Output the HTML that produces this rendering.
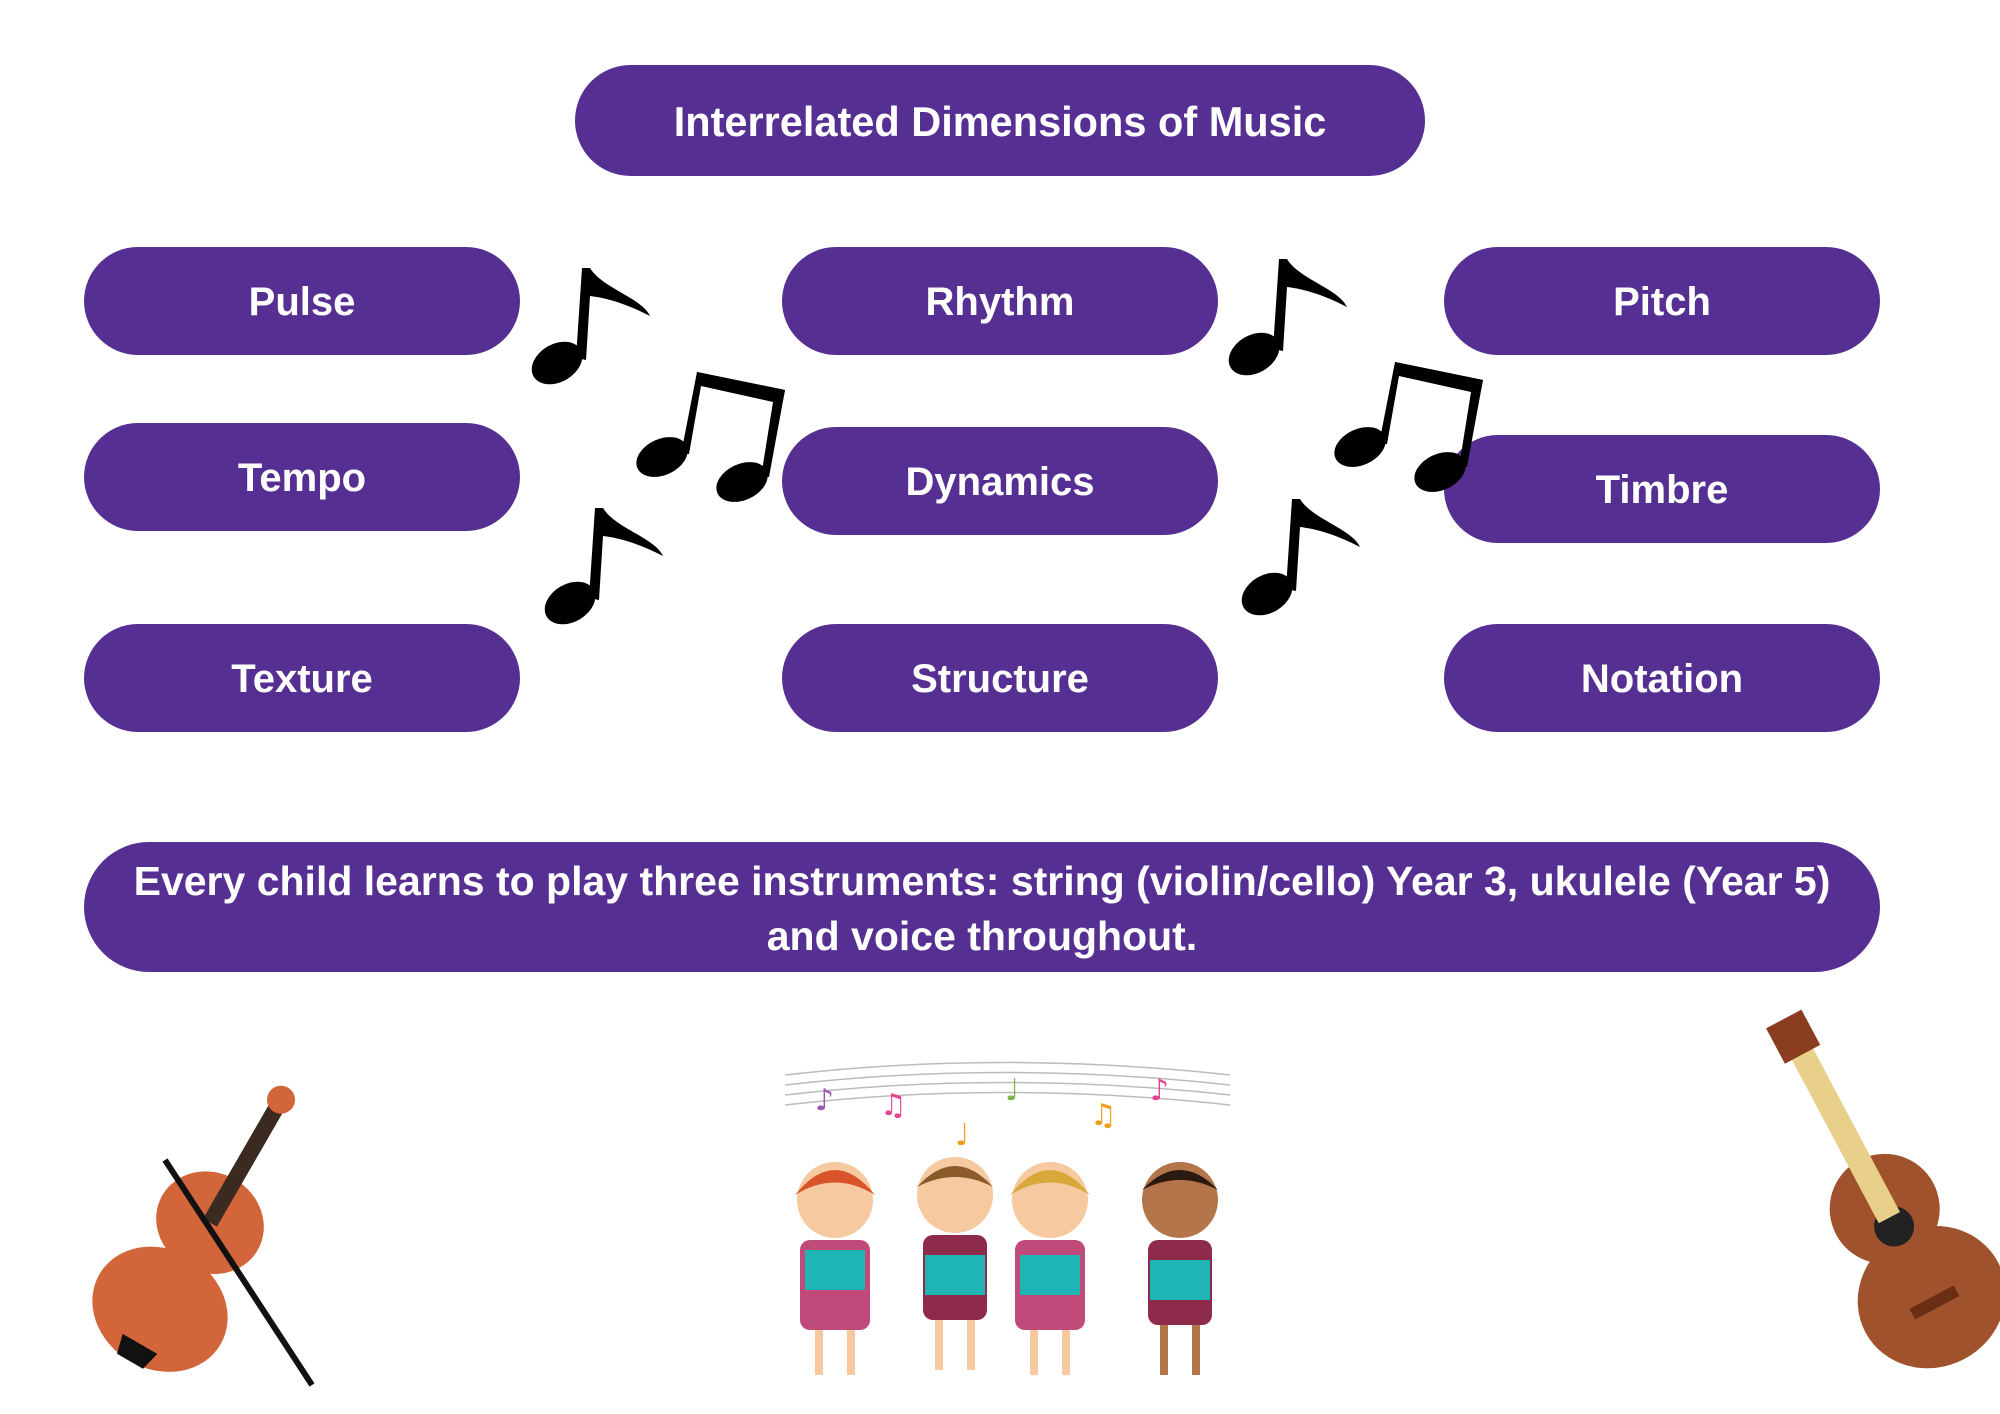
<!DOCTYPE html>
<html><head><meta charset="utf-8"><style>
html,body{margin:0;padding:0;background:#fff;}
body{width:2000px;height:1414px;position:relative;overflow:hidden;font-family:"Liberation Sans",sans-serif;}
.p{position:absolute;background:#553092;color:#fff;border-radius:60px;display:flex;align-items:center;justify-content:center;font-weight:bold;font-size:40px;text-align:center;padding-top:3px;box-sizing:border-box;}
svg{position:absolute;left:0;top:0;}
</style></head><body>
<div class="p" style="left:575px;top:65px;width:850px;height:111px;font-size:41.5px;">Interrelated Dimensions of Music</div>
<div class="p" style="left:84px;top:247px;width:436px;height:108px;">Pulse</div>
<div class="p" style="left:782px;top:247px;width:436px;height:108px;">Rhythm</div>
<div class="p" style="left:1444px;top:247px;width:436px;height:108px;">Pitch</div>
<div class="p" style="left:84px;top:423px;width:436px;height:108px;">Tempo</div>
<div class="p" style="left:782px;top:427px;width:436px;height:108px;">Dynamics</div>
<div class="p" style="left:1444px;top:435px;width:436px;height:108px;">Timbre</div>
<div class="p" style="left:84px;top:624px;width:436px;height:108px;">Texture</div>
<div class="p" style="left:782px;top:624px;width:436px;height:108px;">Structure</div>
<div class="p" style="left:1444px;top:624px;width:436px;height:108px;">Notation</div>
<div class="p" style="left:84px;top:842px;width:1796px;height:130px;font-size:41px;line-height:55px;border-radius:65px;">Every child learns to play three instruments: string (violin/cello) Year 3, ukulele (Year 5)<br>and voice throughout.</div>
<svg width="2000" height="1414" viewBox="0 0 2000 1414">
<defs>
<g id="n1">
<ellipse cx="25" cy="95" rx="27" ry="19" transform="rotate(-30 25 95)"/>
<path d="M44 90 L50 0 L58 0 C70 20 110 30 118 48 C95 36 75 30 58 28 L54 92 Z"/>
</g>
<g id="n2">
<ellipse cx="25" cy="85" rx="27" ry="18" transform="rotate(-25 25 85)"/>
<ellipse cx="105" cy="110" rx="27" ry="18" transform="rotate(-25 105 110)"/>
<path d="M44 82 L60 0 L148 18 L132 105 L124 105 L136 30 L64 14 L52 82 Z"/>
<path d="M60 0 L148 18 L146 28 L60 10 Z"/>
</g>
</defs>
<use href="#n1" transform="translate(532,268)"/>
<use href="#n2" transform="translate(637,372)"/>
<use href="#n1" transform="translate(545,508)"/>
<use href="#n1" transform="translate(1229,259)"/>
<use href="#n2" transform="translate(1335,362)"/>
<use href="#n1" transform="translate(1242,499)"/>
<g transform="rotate(30 200 1240)">
<ellipse cx="200" cy="1320" rx="70" ry="60" fill="#d2663a"/>
<ellipse cx="200" cy="1220" rx="55" ry="50" fill="#d2663a"/>
<rect x="185" y="1260" width="30" height="20" fill="#d2663a"/>
<rect x="192" y="1080" width="16" height="140" fill="#3a2a20"/>
<circle cx="200" cy="1078" r="14" fill="#d2663a"/>
<path d="M180 1360 L220 1360 L215 1380 L185 1380Z" fill="#111"/>
</g>
<line x1="165" y1="1160" x2="312" y2="1385" stroke="#111" stroke-width="6"/>
<g transform="rotate(-28 1880 1200)">
<ellipse cx="1880" cy="1310" rx="75" ry="70" fill="#a0522d"/>
<ellipse cx="1880" cy="1210" rx="55" ry="55" fill="#a0522d"/>
<circle cx="1880" cy="1230" r="20" fill="#222"/>
<rect x="1868" y="1030" width="24" height="190" fill="#e8d08a"/>
<rect x="1860" y="995" width="40" height="40" fill="#8b3e1f"/>
<rect x="1855" y="1310" width="50" height="12" fill="#6b2e15"/>
</g>
<g stroke="#bbb" stroke-width="1.5" fill="none">
<path d="M785 1075 Q1000 1050 1230 1075"/><path d="M785 1085 Q1000 1060 1230 1085"/><path d="M785 1095 Q1000 1070 1230 1095"/><path d="M785 1105 Q1000 1080 1230 1105"/>
</g>
<g font-size="30" font-family="DejaVu Sans,sans-serif">
<text x="815" y="1110" fill="#9b59b6">♪</text><text x="880" y="1115" fill="#e84393">♫</text><text x="1005" y="1100" fill="#7cb342">♩</text><text x="1090" y="1125" fill="#f39c12">♫</text><text x="1150" y="1100" fill="#e84393">♪</text><text x="955" y="1145" fill="#f39c12">♩</text>
</g>
<g>
<g transform="translate(835,1200)"><circle r="38" fill="#f6c9a0"/><path d="M-40 -5 Q0 -55 40 -5 Q0 -30 -40 -5Z" fill="#d9542b"/><rect x="-35" y="40" width="70" height="90" rx="10" fill="#c04a7a"/><rect x="-30" y="50" width="60" height="40" fill="#1fb5b5"/><rect x="-20" y="130" width="8" height="45" fill="#f6c9a0"/><rect x="12" y="130" width="8" height="45" fill="#f6c9a0"/></g>
<g transform="translate(955,1195)"><circle r="38" fill="#f6c9a0"/><path d="M-38 -8 Q0 -50 38 -8 Q0 -28 -38 -8Z" fill="#8b5a2b"/><rect x="-32" y="40" width="64" height="85" rx="10" fill="#8e2b4a"/><rect x="-30" y="60" width="60" height="40" fill="#1fb5b5"/><rect x="-20" y="125" width="8" height="50" fill="#f6c9a0"/><rect x="12" y="125" width="8" height="50" fill="#f6c9a0"/></g>
<g transform="translate(1050,1200)"><circle r="38" fill="#f6c9a0"/><path d="M-40 -5 Q0 -55 40 -5 Q0 -30 -40 -5Z" fill="#d8a93a"/><rect x="-35" y="40" width="70" height="90" rx="10" fill="#c04a7a"/><rect x="-30" y="55" width="60" height="40" fill="#1fb5b5"/><rect x="-20" y="130" width="8" height="45" fill="#f6c9a0"/><rect x="12" y="130" width="8" height="45" fill="#f6c9a0"/></g>
<g transform="translate(1180,1200)"><circle r="38" fill="#b5754a"/><path d="M-38 -10 Q0 -50 38 -10 Q0 -30 -38 -10Z" fill="#2b1a10"/><rect x="-32" y="40" width="64" height="85" rx="10" fill="#8e2b4a"/><rect x="-30" y="60" width="60" height="40" fill="#1fb5b5"/><rect x="-20" y="125" width="8" height="50" fill="#b5754a"/><rect x="12" y="125" width="8" height="50" fill="#b5754a"/></g>
</g>
</svg>
</body></html>
